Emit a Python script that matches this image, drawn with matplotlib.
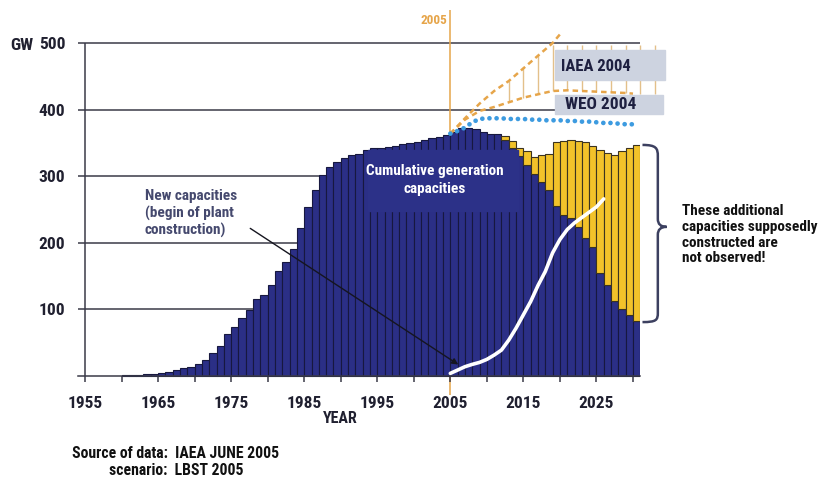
import matplotlib.pyplot as plt
from matplotlib.patches import Rectangle, PathPatch
from matplotlib.path import Path
import numpy as np

plt.rcParams['font.family'] = ['Roboto Condensed', 'Archivo Narrow', 'Liberation Sans', 'DejaVu Sans']
plt.rcParams['font.weight'] = 'bold'

# cumulative generation capacities (GW), one bar per year 1960-2030
years = list(range(1960, 2031))
cumulative = [1, 1.5, 2, 2.5, 3.5, 5, 6.5, 9, 11.5, 14,
              17.5, 24, 34, 45, 63, 74, 87, 99, 115, 121,
              137, 158, 171, 191, 222, 254, 280, 302, 314, 322,
              327, 332, 334, 340, 342, 343, 344, 345, 348, 350,
              352, 354, 357, 359, 362, 367, 372, 373, 371, 367,
              364, 363, 354, 343, 330, 317, 304, 292, 279, 255,
              242, 237, 224, 208, 193, 154, 137, 112, 100, 92, 82]

# top of the additional (not observed) capacities, 2012-2030
extra_years = list(range(2012, 2031))
extra_top = [361, 353, 342, 338, 329, 332, 334, 352, 353, 354,
             353, 352, 346, 339, 335, 332, 338, 342, 347]

# new capacities (begin of plant construction)
new_years = list(range(2005, 2027))
new_cap = [4, 9, 14, 17.5, 20.5, 25, 31.5, 39, 54, 72, 92,
           112, 136, 157, 185, 205, 220, 230, 238, 246, 254, 266]

# WEO 2004 scenario
weo_years = list(range(2005, 2031))
weo = [364, 368, 373, 381, 386, 387, 387, 387, 386, 386, 386, 385, 385,
       384, 384, 384, 383, 383, 382, 382, 381, 380, 380, 379, 378, 378]

# IAEA 2004 scenario, high and low cases
iaea_hi_years = [2005, 2007, 2009, 2011, 2013, 2015, 2017, 2019, 2020]
iaea_hi = [364, 387, 409, 428, 443, 462, 481, 500, 513]
iaea_lo_years = [2005, 2007, 2009, 2011, 2013, 2015, 2017, 2019, 2021,
                 2023, 2025, 2027, 2029, 2030]
iaea_lo = [364, 385, 398, 404, 411, 418, 423, 428, 429, 428, 427, 426, 425, 424]
range_years = [2013, 2015, 2017, 2019, 2021, 2023, 2025, 2027, 2029, 2031, 2033]
range_lo = [411, 418, 423, 428, 429, 428, 427, 426, 425, 424, 424]
range_hi = [443, 464, 482, 497, 497, 497, 497, 497, 497, 497, 497]

NAVY = '#2b2f86'
EDGE = '#17183f'
GOLD = '#f2c22a'
ORANGE = '#e6a54a'
TXT = '#202030'

fig = plt.figure(figsize=(8.23, 4.82), dpi=100)
ax = fig.add_axes([0.0944, 0.1784, 0.6836, 0.8083])
ax.set_xlim(1954, 2031)
ax.set_ylim(-30, 555)

# grid and axes
ax.hlines([100, 200, 300, 400, 500], 1954, 2031, color='#3a3a48', lw=1.1, zorder=1)
ax.vlines(1955, 0, 500, color='#3a3a48', lw=1.1, zorder=1)
ax.vlines(2005, -28, 549, color=ORANGE, lw=1.1, zorder=1.5)
ax.text(2004.6, 534, '2005', color=ORANGE, fontsize=9.5, ha='right', va='center')

# bars
ax.bar(years, cumulative, width=1, align='edge', color=NAVY, edgecolor=EDGE,
       linewidth=0.8, zorder=2)
base = cumulative[years.index(2012):]
ax.bar(extra_years, np.array(extra_top) - np.array(base), bottom=base, width=1,
       align='edge', color=GOLD, edgecolor='#3b3320', linewidth=0.8, zorder=2)

# label box over bars
ax.add_patch(Rectangle((1993.7, 248), 20.6, 91, color='#2c3188', zorder=3))
ax.text(2002.9, 294, 'Cumulative generation\ncapacities', color='white',
        fontsize=11, ha='center', va='center', linespacing=1.35, zorder=4)

# new capacities line and pointer
ax.plot(new_years, new_cap, color='white', lw=2.6, zorder=4, solid_capstyle='round')
ax.annotate('', xy=(2006.4, 15), xytext=(1977.3, 224),
            arrowprops=dict(arrowstyle='-|>', color='#15151f', lw=1.0,
                            mutation_scale=9), zorder=4)
ax.text(1963.2, 244, 'New capacities\n(begin of plant\nconstruction)', color='#45496e',
        fontsize=11, ha='left', va='center', linespacing=1.25)

# scenarios
ax.vlines(range_years, range_lo, range_hi, color='#e3c08a', lw=1.0, zorder=2,
          clip_on=False)
ax.plot(iaea_hi_years, iaea_hi, color=ORANGE, lw=1.8, ls=(0, (2.2, 1.6)), zorder=3,
        clip_on=False)
ax.plot(iaea_lo_years, iaea_lo, color=ORANGE, lw=1.8, ls=(0, (2.2, 1.6)), zorder=3)
ax.plot(weo_years, weo, color='#3d9be0', lw=3.4, ls=(0, (0.01, 1.5)),
        dash_capstyle='round', zorder=3)

ax.add_patch(Rectangle((2019.3, 444.4), 15.1, 45.1, color='#cdd3e0', zorder=4,
                       clip_on=False))
ax.text(2024.9, 465, 'IAEA 2004', color='#1e2040', fontsize=12, ha='center',
        va='center', zorder=5, clip_on=False)
ax.add_patch(Rectangle((2019.3, 393.4), 14.8, 28.6, color='#cdd3e0', zorder=4,
                       clip_on=False))
ax.text(2025.6, 407, 'WEO 2004', color='#1e2040', fontsize=12.5, ha='center',
        va='center', zorder=5, clip_on=False)

# brace and comment
brace = Path([(2031.3, 347), (2033.2, 347), (2033.4, 342), (2033.4, 330),
              (2033.4, 236),
              (2033.4, 228), (2033.8, 224), (2034.6, 224),
              (2033.8, 224), (2033.4, 220), (2033.4, 212),
              (2033.4, 95),
              (2033.4, 84), (2033.2, 81), (2031.3, 81)],
             [Path.MOVETO, Path.CURVE4, Path.CURVE4, Path.CURVE4,
              Path.LINETO,
              Path.CURVE4, Path.CURVE4, Path.CURVE4,
              Path.CURVE4, Path.CURVE4, Path.CURVE4,
              Path.LINETO,
              Path.CURVE4, Path.CURVE4, Path.CURVE4])
ax.add_patch(PathPatch(brace, fill=False, edgecolor='#3c4060', lw=1.8, clip_on=False))
ax.text(2036.7, 212, 'These additional\ncapacities supposedly\nconstructed are\nnot observed!',
        color='#111111', fontsize=11, ha='left', va='center', linespacing=1.15,
        clip_on=False)

# ticks
for s in ['left', 'right', 'top']:
    ax.spines[s].set_visible(False)
ax.spines['bottom'].set_position(('data', 0))
ax.spines['bottom'].set_color('#3a3a48')
ax.spines['bottom'].set_linewidth(1.1)

ax.set_yticks([100, 200, 300, 400, 500])
ax.set_yticklabels(['100', '200', '300', '400', '500'])
ax.tick_params(axis='y', length=0, pad=9, labelsize=12.5, labelcolor=TXT)

xt = list(range(1955, 2031, 5))
ax.set_xticks(xt)
ax.set_xticklabels([str(y) if y % 10 == 5 else '' for y in xt])
ax.tick_params(axis='x', length=4.5, width=1.1, color='#3a3a48', pad=10,
               labelsize=12.5, labelcolor=TXT)

fig.text(22 / 823, 1 - 45 / 482, 'GW', fontsize=12.5, color=TXT, ha='center', va='center')
ax.text(1990, -64, 'YEAR', fontsize=11.5, color=TXT, ha='center', va='center',
        clip_on=False)

fig.text(176 / 823, 1 - 462 / 482, 'Source of data:  IAEA JUNE 2005\nscenario:  LBST 2005',
         fontsize=11.3, color='#111111', ha='center', va='center', linespacing=1.2)

fig.savefig('out.png', dpi=100)
